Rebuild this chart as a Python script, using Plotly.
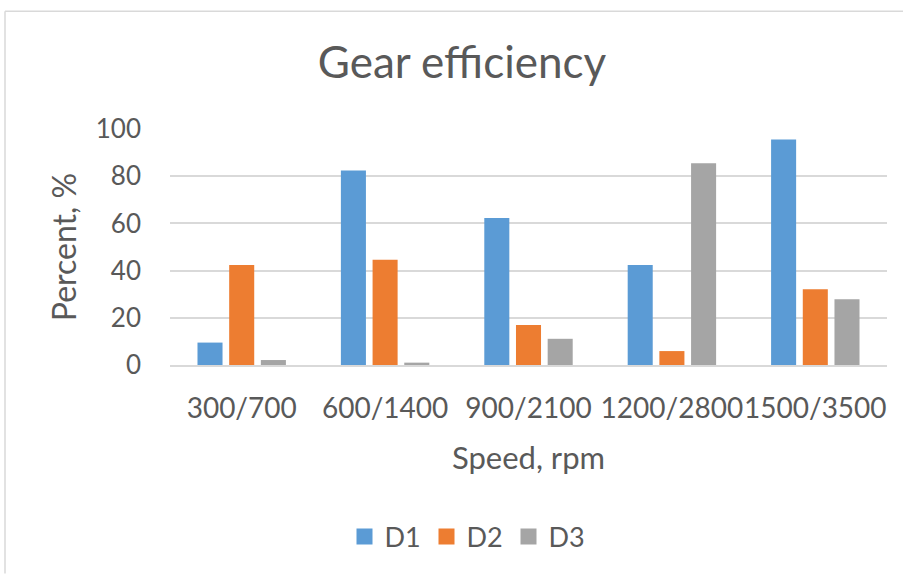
import plotly.graph_objects as go

categories = ["300/700", "600/1400", "900/2100", "1200/2800", "1500/3500"]
d1 = [9.5, 82.4, 62.3, 42.4, 95.6]
d2 = [42.4, 44.6, 17.0, 5.9, 32.1]
d3 = [2.1, 1.0, 11.1, 85.5, 27.9]
series_names = ["D1", "D2", "D3"]
colors = ["#5B9BD5", "#ED7D31", "#A5A5A5"]

FONT = "Lato, Calibri, sans-serif"
TXT = "#595959"

fig = go.Figure()
for name, vals, col in zip(series_names, [d1, d2, d3], colors):
    fig.add_trace(go.Bar(x=categories, y=vals, name=name, showlegend=False,
                         legendgroup=name,
                         marker=dict(color=col, line=dict(width=0))))
# legend entries with larger square swatches
for name, col in zip(series_names, colors):
    fig.add_trace(go.Scatter(x=[None], y=[None], mode="markers", name=name,
                             legendgroup=name,
                             marker=dict(symbol="square", size=16, color=col)))

W, H = 903, 574
L, R, T, B = 170, 887, 129, 365.3
pw, ph = R - L, B - T

def px_x(x):
    return (x - L) / pw

def px_y(y):
    return (B - y) / ph

fig.update_layout(
    width=W, height=H,
    margin=dict(l=L, r=W - R, t=T, b=H - B, pad=0),
    paper_bgcolor="white", plot_bgcolor="white",
    barmode="group", bargap=0.337, bargroupgap=0.21,
    font=dict(family=FONT, color=TXT),
    title=dict(text="Gear efficiency", x=462 / W, xanchor="center",
               xref="container", yref="container", y=1 - 63 / H,
               yanchor="middle", font=dict(size=44, color=TXT, family=FONT)),
    legend=dict(orientation="h", x=px_x(344.5), xanchor="left",
                y=px_y(537.5), yanchor="middle",
                font=dict(size=27, color=TXT, family=FONT),
                itemwidth=30, entrywidth=37, entrywidthmode="pixels",
                traceorder="normal", itemsizing="trace"),
    xaxis=dict(tickangle=0, tickfont=dict(size=28, color=TXT),
               showgrid=False, showline=True, linecolor="#d9d9d9", linewidth=1.5,
               ticklabelstandoff=18,
               title=dict(text="Speed, rpm", font=dict(size=31, color=TXT),
                          standoff=24)),
    yaxis=dict(range=[0, 100], dtick=20, tickfont=dict(size=26, color=TXT),
               showgrid=True, gridcolor="#d9d9d9", gridwidth=1.5,
               zeroline=False, showline=False, ticklabelstandoff=28,
               title=dict(text="Percent, %", font=dict(size=32, color=TXT),
                          standoff=9)),
    shapes=[
        dict(type="line", xref="paper", yref="paper",
             x0=px_x(5), x1=px_x(5), y0=px_y(11), y1=px_y(574),
             line=dict(color="#d9d9d9", width=1.5)),
        dict(type="line", xref="paper", yref="paper",
             x0=px_x(5), x1=px_x(903), y0=px_y(11), y1=px_y(11),
             line=dict(color="#d9d9d9", width=1.5)),
    ],
)

fig.write_html("out.html", config={"displayModeBar": False},
               post_script="document.body.style.margin='0';document.body.style.overflow='hidden';")
